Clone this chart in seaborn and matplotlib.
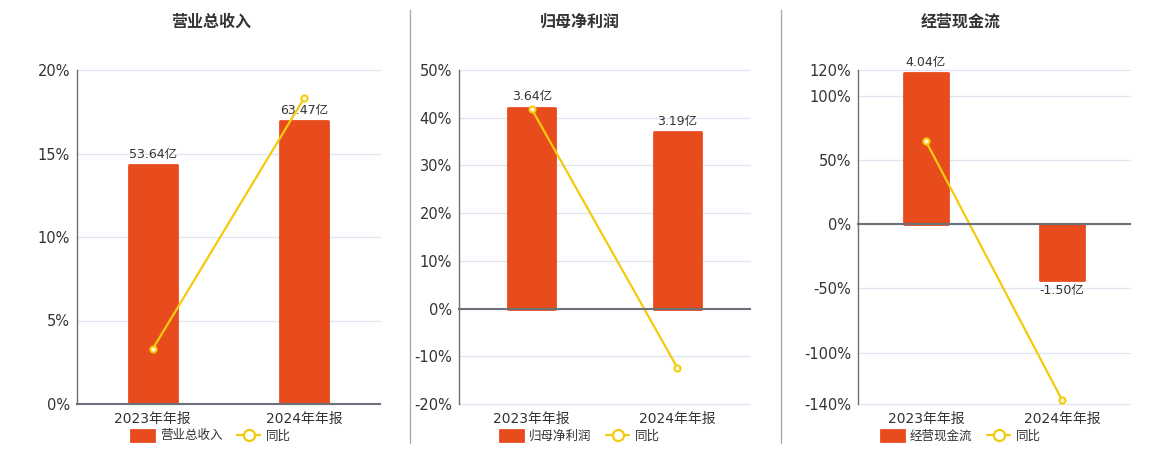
import matplotlib
matplotlib.use('Agg')
import seaborn as sns
import pandas as pd
import matplotlib.pyplot as plt
from matplotlib.lines import Line2D
from matplotlib.patches import Patch
from matplotlib.ticker import FixedLocator, FuncFormatter

# data
periods = ['2023年年报', '2024年年报']

revenue = [53.64, 63.47]          # 亿
revenue_yoy = [3.3, 18.33]        # %
net_profit = [3.64, 3.19]
net_profit_yoy = [41.8, -12.36]
cash_flow = [4.04, -1.50]
cash_flow_yoy = [64.5, -136.8]

revenue_ticks = [0, 5, 10, 15, 20]
net_profit_ticks = [-20, -10, 0, 10, 20, 30, 40, 50]
cash_flow_ticks = [-140, -100, -50, 0, 50, 100, 120]

BAR = '#e84c1d'
LINE = '#f2cb0c'
AXIS = '#6e7079'
GRID = '#e0e6f1'
TEXT = '#333333'

sns.set_theme(style='white')
plt.rcParams['font.family'] = ['DejaVu Sans', 'Noto Sans CJK SC']

W, H = 1160, 450
fig = plt.figure(figsize=(W / 100, H / 100), dpi=100)


def draw_panel(left, width, title, center_x, amount, yoy, ticks, bar_scale):
	ax = fig.add_axes([left / W, 46 / H, width / W, 334 / H])
	ax_bar = ax.twinx()
	ax_line = ax.twinx()

	df = pd.DataFrame({'period': periods, 'amount': amount, 'yoy': yoy})

	# bars on a hidden secondary scale
	sns.barplot(data=df, x='period', y='amount', color=BAR, saturation=1,
				width=0.32, linewidth=2, edgecolor=BAR, ax=ax_bar)
	for p in ax_bar.patches:
		p.set_joinstyle('round')
	ax_bar.bar_label(ax_bar.containers[0], labels=[f'{v:.2f}亿' for v in amount],
					 padding=3, fontsize=9, color=TEXT)

	# growth line
	sns.pointplot(data=df, x='period', y='yoy', color=LINE, markers='o',
				  errorbar=None, ax=ax_line)
	ln = ax_line.lines[0]
	ln.set_linewidth(1.6)
	ln.set_markersize(4.5)
	ln.set_markerfacecolor('#fff6cc')
	ln.set_markeredgecolor(LINE)
	ln.set_markeredgewidth(1.4)

	ax.set_ylim(ticks[0], ticks[-1])
	ax_line.set_ylim(ticks[0], ticks[-1])
	ax_bar.set_ylim(ticks[0] * bar_scale, ticks[-1] * bar_scale)
	ax.set_xlim(-0.5, 1.5)

	ax.yaxis.set_major_locator(FixedLocator(ticks))
	ax.yaxis.set_major_formatter(FuncFormatter(lambda v, pos: f'{v:g}%'))
	ax.grid(axis='y', color=GRID, lw=1)
	ax.grid(axis='x', visible=False)
	for g in ax.get_ygridlines():
		g.set_clip_on(False)
	ax.set_axisbelow(True)
	ax.tick_params(axis='y', length=0, labelsize=10.5, labelcolor=TEXT, pad=5)

	for a in (ax_bar, ax_line):
		a.set_yticks([])
		a.set_ylabel('')
		a.set_xlabel('')
		for s in a.spines.values():
			s.set_visible(False)
	ax.set_xlabel('')
	ax.set_ylabel('')

	ax.set_xticks([0, 1])
	ax.set_xticklabels(periods)
	ax.xaxis.set_minor_locator(FixedLocator([-0.5, 0.5, 1.5]))
	ax.tick_params(axis='x', which='both', length=0, labelsize=10, labelcolor=TEXT, pad=6)

	# zero axis line with category boundary ticks
	ax_line.xaxis.set_visible(True)
	ax_line.tick_params(axis='x', which='major', length=0, labelbottom=False)
	ax_line.tick_params(axis='x', which='minor', length=5, width=1, color=AXIS)
	ax_line.spines['bottom'].set_visible(True)
	ax_line.spines['bottom'].set_position(('data', 0))
	ax_line.spines['bottom'].set_color(AXIS)
	ax_line.spines['bottom'].set_linewidth(1.5)

	for k in ('top', 'right', 'bottom'):
		ax.spines[k].set_visible(False)
	ax.spines['left'].set_color(AXIS)
	ax.spines['left'].set_linewidth(1)

	fig.text(center_x / W, 1 - 22 / H, title, ha='center', va='center',
			 fontsize=11.5, fontweight='bold', color=TEXT)

	handles = [Patch(facecolor=BAR, edgecolor=BAR, linewidth=2, joinstyle='round'),
			   Line2D([], [], color=LINE, lw=1.6, marker='o', markersize=8,
					  markerfacecolor='white', markeredgecolor=LINE, markeredgewidth=1.6)]
	fig.legend(handles, [title, '同比'], loc='center', ncol=2, frameon=False,
			   bbox_to_anchor=(center_x / W, 14 / H), bbox_transform=fig.transFigure,
			   fontsize=9, labelcolor=TEXT, handlelength=1.8, handleheight=1.0,
			   columnspacing=1.2, handletextpad=0.5)


draw_panel(77, 303, '营业总收入', 211, revenue, revenue_yoy, revenue_ticks, 75.0 / 20)
draw_panel(459, 291, '归母净利润', 580, net_profit, net_profit_yoy, net_profit_ticks, 6.05 / 70)
draw_panel(858, 272, '经营现金流', 961, cash_flow, cash_flow_yoy, cash_flow_ticks, 8.95 / 260)

# panel separators
for x in (410, 781):
	fig.add_artist(Line2D([x / W, x / W], [7 / H, 440 / H], transform=fig.transFigure,
						  color='#aaaaaa', lw=1))

fig.savefig('out.png', dpi=100)
